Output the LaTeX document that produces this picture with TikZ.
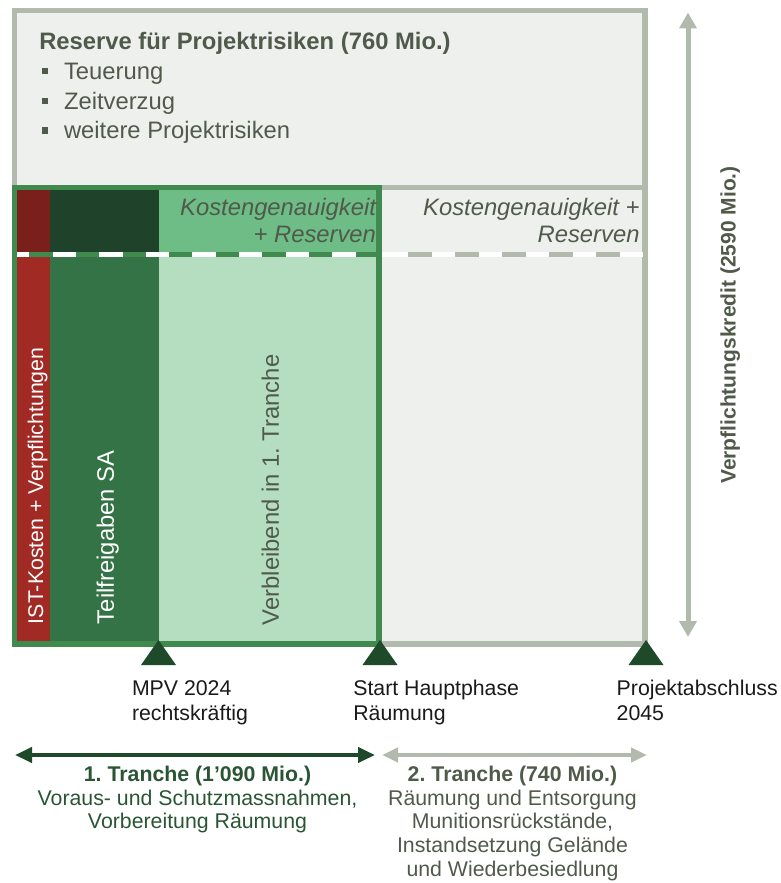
\documentclass[tikz,border=0pt]{standalone}
\usepackage{fontspec}
\setmainfont{Liberation Sans}
\usetikzlibrary{arrows.meta}
\frenchspacing
\definecolor{greyb}{HTML}{B2BAAE}
\definecolor{greyf}{HTML}{EEF0ED}
\definecolor{redtop}{HTML}{7B1F1B}
\definecolor{redbot}{HTML}{A22A24}
\definecolor{dgtop}{HTML}{1F432A}
\definecolor{dgbot}{HTML}{347345}
\definecolor{mgtop}{HTML}{6EBC86}
\definecolor{lgbot}{HTML}{B5DEC1}
\definecolor{framegreen}{HTML}{40894F}
\definecolor{trigreen}{HTML}{1F4A2A}
\definecolor{txtgrey}{HTML}{505A4B}
\definecolor{txtgreen}{HTML}{2A5534}
\definecolor{txtblack}{HTML}{1A1A1A}
\newcommand\mystrut[1]{\rule{0pt}{#1}}
\begin{document}
\begin{tikzpicture}[x=1pt,y=-1pt,
  txt/.style={inner sep=0pt,outer sep=0pt},
  bigfont/.style={font=\fontsize{23.8}{29.7}\selectfont},
  smallfont/.style={font=\fontsize{21.3}{24.4}\selectfont},
  bulletbox/.style={fill=txtgrey,inner sep=0pt,minimum size=6.3pt,draw=none},
  kost/.style={txt,text=txtgrey,align=right,font=\fontsize{23.8}{27.4}\selectfont\itshape},
  milestone/.style={txt,text=txtblack,align=left,anchor=north west,font=\fontsize{21.3}{24.4}\selectfont},
  tranchetxt/.style={txt,align=center,anchor=north,font=\fontsize{21.3}{23.6}\selectfont},
  tri/.style={fill=trigreen},
  greyborder/.style={draw=greyb,line width=5.3pt},
  arrA/.style={draw=trigreen,line width=4pt,{Triangle[length=17pt,width=15pt]}-{Triangle[length=17pt,width=15pt]}},
  arrB/.style={draw=greyb,line width=4pt,{Triangle[length=16pt,width=14pt]}-{Triangle[length=16pt,width=14pt]}},
  arrV/.style={draw=greyb,line width=5pt,{Triangle[length=16pt,width=17pt]}-{Triangle[length=16pt,width=17pt]}}
]
\useasboundingbox (0,0) rectangle (780,883);

% background fill of the whole box
\fill[greyf] (14.5,10.7) rectangle (645,644);

% column fills, upper band
\fill[redtop] (14.5,187.5) rectangle (50,254);
\fill[dgtop] (50,187.5) rectangle (159,254);
\fill[mgtop] (159,187.5) rectangle (379,254);
% column fills, lower band
\fill[redbot] (14.5,254) rectangle (50,644);
\fill[dgbot] (50,254) rectangle (159,644);
\fill[lgbot] (159,254) rectangle (379,644);

% grey borders
\draw[greyborder] (14.5,10.7) rectangle (645,644);
\draw[greyborder] (14.5,187.5) -- (645,187.5);

% dashed separator
\draw[white,line width=5pt] (17,254) -- (643,254);
\draw[framegreen,line width=5pt,dash pattern=on 23.3pt off 23.3pt] (29.3,254) -- (379,254);
\draw[greyb,line width=5pt,dash pattern=on 23.5pt off 23.5pt] (408,254) -- (643,254);

% green frame of first tranche
\draw[framegreen,line width=5.5pt] (14.5,187.5) rectangle (379,644);

% milestone triangles
\fill[tri] (158.5,640) -- (176,665) -- (141,665) -- cycle;
\fill[tri] (380,640) -- (397.5,665) -- (362.5,665) -- cycle;
\fill[tri] (646,640) -- (663.5,665) -- (628.5,665) -- cycle;

% reserve text
\node[txt,anchor=base west,text=txtgrey,font=\fontsize{23.8}{28}\selectfont\bfseries] (title) at (39.3,49) {Reserve für Projektrisiken (760 Mio.)};
\node[bulletbox] (b1) at (45,71.2) {};
\node[bulletbox] (b2) at (45,100.9) {};
\node[bulletbox] (b3) at (45,130.6) {};
\node[txt,bigfont,anchor=base west,text=txtgrey] (t1) at (64,79.4) {Teuerung};
\node[txt,bigfont,anchor=base west,text=txtgrey] (t2) at (64,109.1) {Zeitverzug};
\node[txt,bigfont,anchor=base west,text=txtgrey] (t3) at (64,138.8) {weitere Projektrisiken};

% Kostengenauigkeit labels
\node[kost,anchor=north east] (k1) at (376,191.2) {\mystrut{23.8pt}Kostengenauigkeit\\+ Reserven};
\node[kost,anchor=north east] (k2) at (639.5,191.2) {\mystrut{23.8pt}Kostengenauigkeit +\\Reserven};

% rotated column labels
\node[txt,rotate=90,anchor=base west,text=white,font=\fontsize{21.3}{24}\selectfont] (ist) at (43,624) {IST-Kosten + Verpflichtungen};
\node[txt,rotate=90,anchor=base west,text=white,bigfont] (tf) at (113.8,624) {Teilfreigaben SA};
\node[txt,rotate=90,anchor=base west,text=txtgrey,bigfont] (vb) at (278.8,625) {Verbleibend in 1. Tranche};

% vertical arrow and label
\coordinate (vtop) at (688,12.5);
\coordinate (vbot) at (688,637);
\draw[arrV] (vtop) -- (vbot);
\node[txt,rotate=90,anchor=base,text=txtgrey,font=\fontsize{21}{24}\selectfont\bfseries] (vk) at (735.5,325) {Verpflichtungskredit (2590 Mio.)};

% milestone labels
\node[milestone] (m1) at (132,674.4) {\mystrut{21.3pt}MPV 2024\\rechtskräftig};
\node[milestone] (m2) at (353.3,674.4) {\mystrut{21.3pt}Start Hauptphase\\Räumung};
\node[milestone] (m3) at (616.7,674.4) {\mystrut{21.3pt}Projektabschluss\\2045};

% tranche arrows
\coordinate (a1l) at (15,755);
\coordinate (a1r) at (375,755);
\coordinate (a2l) at (382,755);
\coordinate (a2r) at (647,755);
\draw[arrA] (a1l) -- (a1r);
\draw[arrB] (a2l) -- (a2r);

% tranche texts
\node[tranchetxt,text=txtgreen] (tr1) at (197.5,760.4) {\mystrut{21.3pt}\textbf{1. Tranche (1’090 Mio.)}\\Voraus- und Schutzmassnahmen,\\Vorbereitung Räumung};
\node[tranchetxt,text=txtgrey] (tr2) at (512.5,760.4) {\mystrut{21.3pt}\textbf{2. Tranche (740 Mio.)}\\Räumung und Entsorgung\\Munitionsrückstände,\\Instandsetzung Gelände\\und Wiederbesiedlung};
\end{tikzpicture}
\end{document}
